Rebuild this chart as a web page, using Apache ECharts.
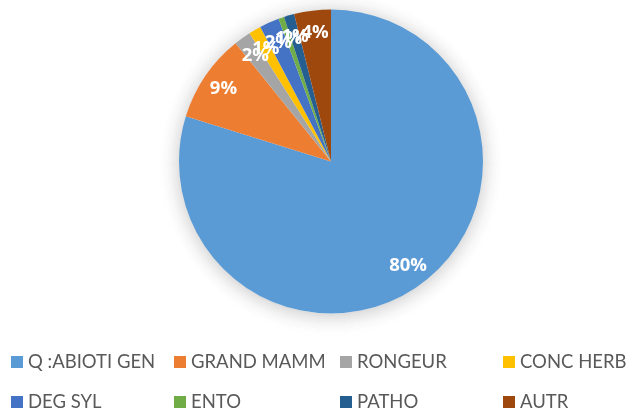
<!DOCTYPE html>
<html>
<head>
<meta charset="utf-8">
<script src="https://cdn.jsdelivr.net/npm/echarts@6/dist/echarts.min.js"></script>
<style>
    html, body { margin: 0; padding: 0; background: #fff; }
    #piediv { width: 629px; height: 411px; }
</style>
</head>
<body>
<div id="piediv"></div>
<script>
// categories and their shares (percent)
var categories = ['Q :ABIOTI GEN', 'GRAND MAMM', 'RONGEUR', 'CONC HERB', 'DEG SYL', 'ENTO', 'PATHO', 'AUTR'];
var shares = [79.8, 9.4, 1.8, 1.3, 2.1, 0.6, 1.1, 3.9];
var colors = ['#5b9bd5', '#ed7d31', '#a5a5a5', '#ffc000', '#4472c4', '#70ad47', '#255e91', '#9e480e'];

// legend grid: 4 columns x 2 rows
var legendCols = [11, 174, 340, 503];
var legendRows = [352, 392];

var chartDom = document.getElementById('piediv');
var myChart = echarts.init(chartDom);
var option;

var pieData = categories.map(function (name, i) {
    return {name: name, value: shares[i], itemStyle: {color: colors[i]}};
});

var legends = categories.map(function (name, i) {
    return {
        left: legendCols[i % 4],
        top: legendRows[Math.floor(i / 4)],
        padding: 0,
        itemWidth: 12,
        itemHeight: 12,
        itemGap: 6,
        icon: 'rect',
        selectedMode: false,
        data: [name],
        textStyle: {
            color: '#595959',
            fontSize: 18.5,
            lineHeight: 20,
            fontFamily: 'Lato'
        }
    };
});

// soft glow around the pie: thin grey rings fading outwards (decoration only)
var glowSeries = [];
for (var k = 0; k < 12; k++) {
    var r0 = 150 + k * 2;
    var a = 0.13 * Math.pow(1 - k / 12, 2);
    glowSeries.push({
        type: 'pie',
        silent: true,
        center: [331, 163.5],
        radius: [r0, r0 + 2],
        z: 1,
        label: {show: false},
        labelLine: {show: false},
        itemStyle: {color: 'rgba(0,0,0,' + a.toFixed(3) + ')', borderWidth: 0},
        data: [{name: 'glow' + k, value: 1}]
    });
}

option = {
    animation: false,
    color: colors,
    legend: legends,
    series: glowSeries.concat([
        {
            name: 'parts',
            type: 'pie',
            center: [331, 161.5],
            radius: 152,
            startAngle: 90,
            z: 2,
            label: {show: false},
            labelLine: {show: false},
            itemStyle: {borderWidth: 0},
            data: pieData
        },
        {
            // labels only, placed near the outer rim
            type: 'pie',
            silent: true,
            center: [331, 161.5],
            radius: [102, 152],
            startAngle: 90,
            z: 3,
            itemStyle: {color: 'rgba(0,0,0,0)'},
            labelLine: {show: false},
            labelLayout: {hideOverlap: false},
            label: {
                show: true,
                position: 'inside',
                color: '#fff',
                fontSize: 18.5,
                fontWeight: 'bold',
                fontFamily: 'Open Sans',
                formatter: function (p) {
                    return Math.round(p.value) + '%';
                }
            },
            data: categories.map(function (name, i) {
                return {name: name, value: shares[i]};
            })
        }
    ])
};

option && myChart.setOption(option);
</script>
</body>
</html>
